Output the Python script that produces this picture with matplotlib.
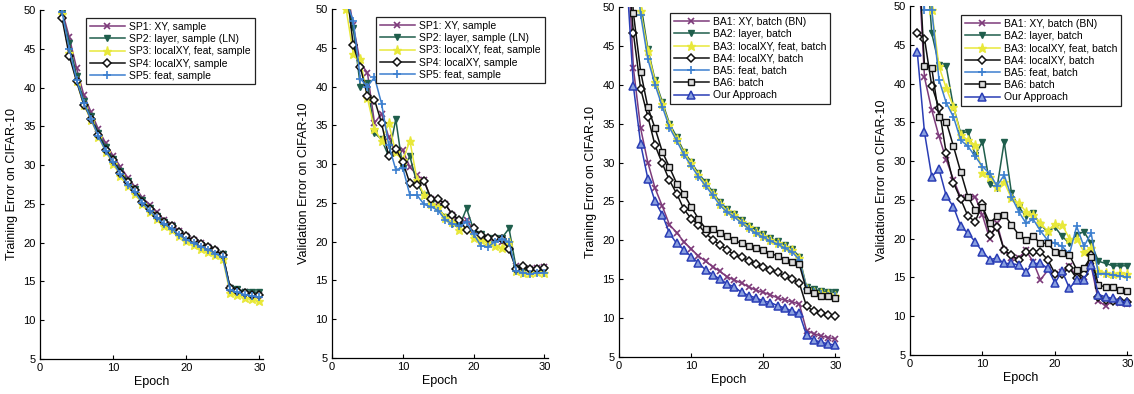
import matplotlib
matplotlib.use("Agg")
import matplotlib.pyplot as plt
import numpy as np

plt.rcParams['font.family'] = ['Liberation Sans', 'DejaVu Sans']

epochs = list(range(1, 31))

# Panel 1: training error, sample-based
sp_train = {
    "SP1: XY, sample": [72, 59, 50.0, 46.5, 42.5, 39.0, 36.8, 34.6, 32.8, 31.2, 29.8, 28.4, 27.2, 25.8, 24.9, 23.9, 22.9, 22.3, 21.5, 20.9, 20.3, 19.9, 19.4, 19.0, 18.5, 14.1, 13.9, 13.6, 13.4, 13.3],
    "SP2: layer, sample (LN)": [71, 58, 49.6, 45.8, 41.5, 38.3, 36.3, 34.2, 32.3, 30.8, 29.3, 28.0, 26.9, 25.5, 24.5, 23.5, 22.7, 22.1, 21.3, 20.7, 20.1, 19.7, 19.3, 18.9, 18.5, 14.2, 14.0, 13.7, 13.6, 13.6],
    "SP3: localXY, feat, sample": [70, 57, 49.5, 44.5, 40.8, 37.7, 35.8, 33.6, 31.7, 30.2, 28.6, 27.3, 26.3, 25.0, 23.9, 23.0, 22.2, 21.6, 20.9, 20.2, 19.7, 19.2, 18.8, 18.4, 17.9, 13.5, 13.2, 12.9, 12.7, 12.5],
    "SP4: localXY, sample": [69, 57, 49.0, 44.1, 40.8, 37.8, 36.0, 33.9, 32.0, 30.6, 29.0, 27.8, 26.8, 25.3, 24.4, 23.5, 22.7, 22.1, 21.4, 20.8, 20.3, 19.8, 19.4, 19.0, 18.4, 14.1, 13.8, 13.5, 13.3, 13.2],
    "SP5: feat, sample": [70, 58, 49.8, 45.0, 41.0, 38.0, 35.9, 33.7, 31.8, 30.4, 28.8, 27.5, 26.5, 25.1, 24.1, 23.2, 22.4, 21.8, 21.0, 20.4, 19.9, 19.5, 19.1, 18.6, 18.1, 13.9, 13.6, 13.3, 13.1, 13.0],
}

# Panel 2: validation error, sample-based
sp_val = {
    "SP1: XY, sample": [65, 53, 47.9, 43.0, 41.8, 35.3, 36.5, 33.5, 31.5, 31.8, 29.6, 28.6, 27.9, 25.5, 25.0, 24.8, 23.5, 22.3, 22.8, 21.5, 20.5, 19.8, 20.3, 20.0, 19.5, 16.8, 16.6, 16.5, 16.6, 16.7],
    "SP2: layer, sample (LN)": [64, 52, 47.5, 40.0, 40.5, 34.0, 33.2, 31.0, 35.8, 29.5, 31.0, 27.5, 26.0, 25.0, 24.3, 23.2, 22.3, 22.0, 24.3, 21.5, 21.0, 20.5, 20.5, 20.5, 21.7, 16.6, 16.4, 16.2, 16.3, 16.3],
    "SP3: localXY, feat, sample": [60, 50.0, 44.2, 43.5, 38.5, 34.5, 33.0, 35.3, 31.5, 30.5, 33.0, 28.0, 26.0, 24.8, 24.5, 23.0, 22.5, 21.5, 21.8, 20.5, 20.2, 20.0, 19.5, 19.2, 20.0, 16.2, 16.0, 16.0, 16.1, 16.0],
    "SP4: localXY, sample": [62, 53, 45.3, 42.5, 38.8, 38.3, 35.3, 31.0, 32.0, 30.3, 27.5, 27.3, 27.8, 25.5, 25.5, 24.8, 23.5, 22.8, 21.5, 21.8, 20.8, 20.5, 20.5, 20.3, 19.0, 16.5, 16.8, 16.5, 16.5, 16.6],
    "SP5: feat, sample": [63, 51, 48.5, 41.0, 40.0, 41.2, 37.8, 32.5, 29.3, 29.5, 26.0, 26.0, 24.8, 24.5, 24.0, 22.8, 22.3, 22.0, 22.5, 21.0, 19.5, 19.3, 20.0, 20.3, 20.0, 16.2, 16.0, 15.8, 16.0, 16.0],
}

# Panel 3: training error, batch-based
ba_train = {
    "BA1: XY, batch (BN)": [60, 42.1, 34.4, 30.0, 26.7, 24.4, 22.0, 21.0, 19.8, 18.9, 18.0, 17.3, 16.6, 16.0, 15.3, 14.9, 14.5, 14.0, 13.6, 13.3, 13.0, 12.6, 12.3, 12.1, 11.8, 8.4, 8.0, 7.7, 7.5, 7.3],
    "BA2: layer, batch": [70, 60, 50.5, 44.6, 40.6, 37.8, 35.0, 33.3, 31.4, 30.1, 28.6, 27.5, 26.2, 24.9, 24.0, 23.4, 22.6, 21.9, 21.3, 20.8, 20.3, 19.9, 19.4, 18.9, 17.9, 14.0, 13.7, 13.5, 13.4, 13.3],
    "BA3: localXY, feat, batch": [70, 60, 49.5, 44.3, 40.4, 37.5, 34.8, 33.0, 31.2, 29.9, 28.4, 27.3, 26.0, 24.7, 23.8, 23.2, 22.4, 21.7, 21.1, 20.6, 20.1, 19.7, 19.2, 18.7, 17.7, 13.8, 13.4, 13.2, 13.1, 12.9],
    "BA4: localXY, batch": [58, 46.6, 39.5, 35.9, 32.2, 29.9, 27.7, 26.0, 24.0, 22.8, 22.0, 20.9, 20.1, 19.4, 18.8, 18.1, 17.8, 17.4, 17.0, 16.6, 16.2, 15.9, 15.4, 15.0, 14.5, 11.5, 10.9, 10.6, 10.4, 10.3],
    "BA5: feat, batch": [70, 58, 49.0, 43.3, 40.0, 37.2, 34.5, 32.8, 31.0, 29.6, 28.2, 27.0, 25.8, 24.5, 23.6, 23.0, 22.2, 21.5, 20.9, 20.4, 19.9, 19.5, 19.0, 18.5, 17.5, 13.8, 13.3, 13.1, 12.9, 12.8],
    "BA6: batch": [62, 49.2, 41.7, 37.1, 34.4, 31.4, 29.4, 27.3, 26.0, 24.3, 22.8, 21.5, 21.4, 20.9, 20.5, 20.0, 19.6, 19.3, 19.0, 18.7, 18.3, 18.0, 17.5, 17.2, 16.9, 13.6, 13.2, 12.9, 12.8, 12.6],
    "Our Approach": [55, 39.8, 32.4, 27.9, 25.0, 23.3, 20.9, 19.6, 18.8, 17.9, 17.1, 16.2, 15.6, 15.0, 14.4, 14.0, 13.3, 12.9, 12.6, 12.2, 12.0, 11.6, 11.3, 10.9, 10.6, 7.8, 7.2, 6.9, 6.7, 6.5],
}

# Panel 4: validation error, batch-based
ba_val = {
    "BA1: XY, batch (BN)": [58, 40.8, 36.6, 33.2, 30.2, 27.6, 25.3, 25.4, 25.4, 23.0, 20.0, 22.0, 18.5, 17.5, 17.5, 18.5, 17.0, 14.7, 15.9, 15.5, 15.7, 16.5, 15.0, 15.0, 16.5, 12.0, 11.3, 12.0, 11.7, 11.6],
    "BA2: layer, batch": [70, 60, 46.5, 42.4, 42.2, 37.0, 33.6, 33.8, 30.8, 32.5, 27.1, 26.5, 32.5, 25.9, 24.1, 22.9, 23.3, 21.8, 20.9, 21.5, 20.3, 19.4, 20.5, 20.9, 19.4, 17.1, 16.8, 16.5, 16.5, 16.5],
    "BA3: localXY, feat, batch": [70, 60, 49.5, 42.2, 39.4, 37.0, 33.4, 32.7, 32.1, 28.5, 28.0, 26.7, 27.3, 25.2, 24.6, 23.5, 23.1, 22.0, 21.0, 21.9, 21.8, 20.0, 20.0, 18.3, 18.8, 15.8, 15.6, 15.5, 15.6, 15.5],
    "BA4: localXY, batch": [46.5, 45.8, 39.7, 36.9, 31.0, 27.2, 25.1, 22.9, 22.2, 24.5, 20.5, 21.5, 18.5, 17.9, 17.2, 18.3, 18.3, 18.3, 17.3, 15.5, 15.5, 16.2, 14.9, 15.5, 17.9, 12.5, 12.1, 12.0, 11.9, 11.8],
    "BA5: feat, batch": [70, 49.5, 49.5, 40.5, 37.5, 35.7, 32.7, 31.9, 30.6, 29.3, 28.4, 26.8, 28.2, 25.4, 23.5, 22.0, 22.5, 21.0, 19.8, 19.4, 19.0, 18.0, 21.6, 19.0, 20.7, 15.5, 15.5, 15.3, 15.2, 15.0],
    "BA6: batch": [60, 42.2, 42.0, 35.7, 35.1, 31.9, 28.6, 25.4, 23.7, 24.1, 22.0, 22.9, 23.1, 21.8, 20.5, 19.8, 20.3, 19.4, 19.4, 18.3, 18.1, 17.9, 16.0, 16.2, 17.7, 14.0, 13.8, 13.8, 13.4, 13.2],
    "Our Approach": [44.1, 33.7, 28.0, 29.0, 25.5, 24.1, 21.6, 20.7, 19.6, 18.3, 17.3, 17.5, 16.8, 16.8, 16.6, 15.7, 16.8, 16.8, 16.2, 14.3, 15.8, 13.6, 14.7, 14.7, 16.6, 12.8, 12.5, 12.3, 12.0, 11.8],
}

x_ticks = [0, 10, 20, 30]
y_ticks = [5, 10, 15, 20, 25, 30, 35, 40, 45, 50]

PURPLE = "#7d3a7a"
GREEN = "#1f5e4c"
YELLOW = "#e8e83a"
BLACK = "#111111"
BLUE = "#3c7fcf"
DBLUE = "#2a3db5"

styles = [
    dict(color=PURPLE, marker="x", mfc=PURPLE, mec=PURPLE, ms=5, mew=1.2),
    dict(color=GREEN, marker="v", mfc=GREEN, mec=GREEN, ms=5),
    dict(color=YELLOW, marker="*", mfc=YELLOW, mec=YELLOW, ms=6.5),
    dict(color=BLACK, marker="D", mfc="white", mec=BLACK, ms=4.3, mew=1.1),
    dict(color=BLUE, marker="+", mfc=BLUE, mec=BLUE, ms=6, mew=1.2),
    dict(color=BLACK, marker="s", mfc="#dddddd", mec=BLACK, ms=4.3, mew=1.0),
    dict(color=DBLUE, marker="^", mfc="#8aa0e0", mec=DBLUE, ms=5.5, mew=1.1),
]

fig = plt.figure(figsize=(11.34, 3.94), dpi=100)
W, H = 1134.0, 394.0

panels = [
    (sp_train, "Training Error on CIFAR-10", (40, 263, 10, 359), (86, 18)),
    (sp_val, "Validation Error on CIFAR-10", (332, 548, 9, 358), (376, 17)),
    (ba_train, "Training Error on CIFAR-10", (619, 839, 7, 357), (670, 13)),
    (ba_val, "Validation Error on CIFAR-10", (910, 1131, 6, 355), (961, 15)),
]

for data, ylabel, (l, r, t, b), (lx, ly) in panels:
    ax = fig.add_axes([l / W, 1 - b / H, (r - l) / W, (b - t) / H])
    for i, (name, vals) in enumerate(data.items()):
        st = styles[i]
        ax.plot(epochs, vals, label=name, lw=1.1, color=st["color"], marker=st["marker"],
                markerfacecolor=st["mfc"], markeredgecolor=st["mec"], markersize=st["ms"],
                markeredgewidth=st.get("mew", 1.0))
    ax.set_xlim(0, 30.5)
    ax.set_ylim(5, 50)
    ax.set_xticks(x_ticks)
    ax.set_yticks(y_ticks)
    ax.tick_params(direction="in", length=3, labelsize=8, width=0.8, pad=3)
    ax.spines["top"].set_visible(False)
    ax.spines["right"].set_visible(False)
    ax.spines["left"].set_linewidth(0.9)
    ax.spines["bottom"].set_linewidth(0.9)
    ax.set_xlabel("Epoch", fontsize=9, labelpad=2)
    ax.set_ylabel(ylabel, fontsize=9, labelpad=4)
    leg = ax.legend(loc="upper left", bbox_to_anchor=(lx / W, 1 - ly / H),
                    bbox_transform=fig.transFigure, fontsize=7.5, frameon=True,
                    fancybox=False, edgecolor="#222222", framealpha=1,
                    handlelength=3.4, labelspacing=0.22, borderpad=0.35,
                    handletextpad=0.4, borderaxespad=0)
    leg.get_frame().set_linewidth(0.9)

fig.savefig("out.png", dpi=100)
